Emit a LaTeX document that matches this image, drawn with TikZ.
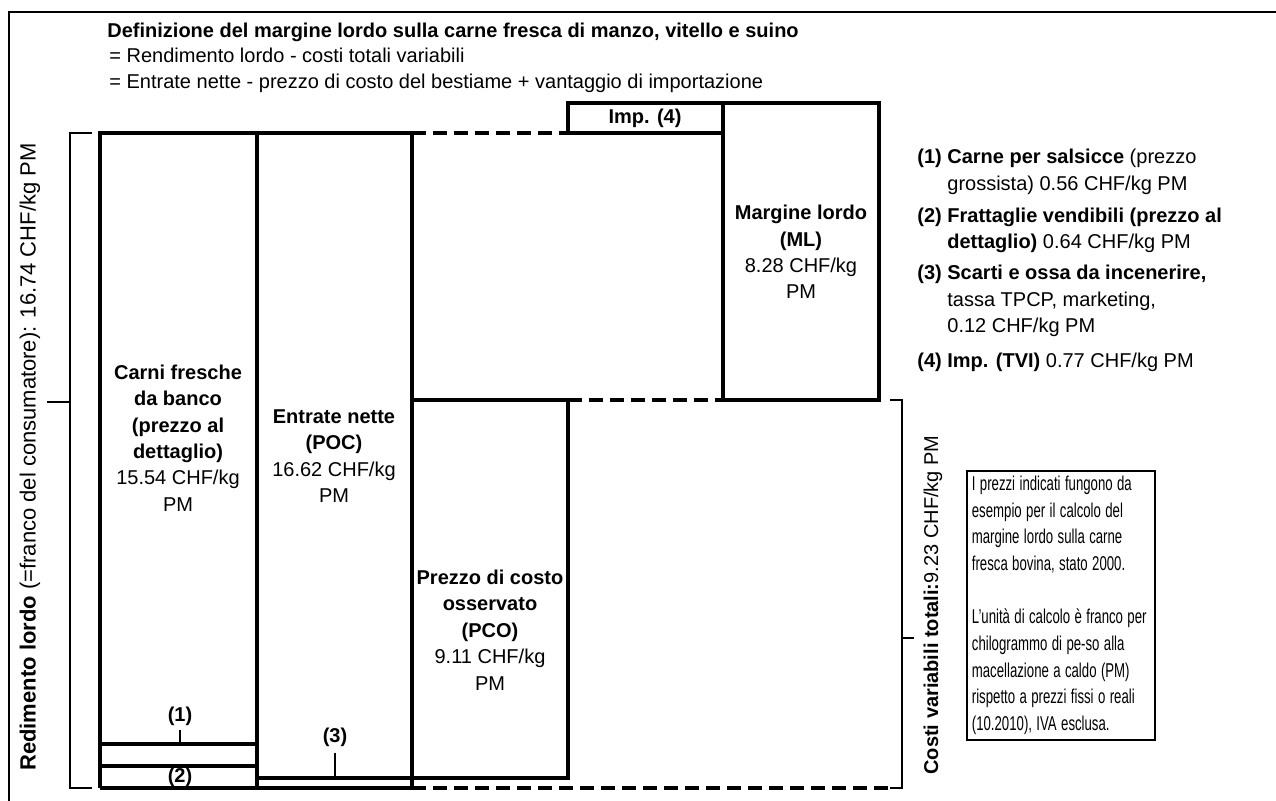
\documentclass[tikz,border=0pt]{standalone}
\usepackage{graphicx}
\usepackage{fontspec}
\setmainfont{Liberation Sans}
\newcommand{\narrowline}[1]{\scalebox{0.66}[1]{#1}}
\tikzset{
  boxline/.style={line width=1.9pt},
  dashline/.style={line width=1.9pt, dash pattern=on 7pt off 3.5pt},
  brace/.style={line width=0.9pt},
  thinline/.style={line width=0.6pt},
  txt/.style={inner sep=0pt, font=\fontsize{10}{13.2}\selectfont},
  btxt/.style={inner sep=0pt, font=\fontsize{10}{13.2}\selectfont\bfseries},
  ctr/.style={txt, align=center},
}
\begin{document}
\begin{tikzpicture}[x=0.5pt,y=-0.5pt]
\useasboundingbox (0,0) rectangle (1276,801);
\begin{scope}
\clip (0,0) rectangle (1276,801);
\draw[line width=1.2pt] (9,12) rectangle (1300,830);
\end{scope}
% header
\node[btxt, anchor=base west] (title) at (107,38) {Definizione del margine lordo sulla carne fresca di manzo, vitello e suino};
\node[txt, anchor=base west] (def1) at (109,63) {= Rendimento lordo - costi totali variabili};
\node[txt, anchor=base west] (def2) at (109,89) {= Entrate nette - prezzo di costo del bestiame + vantaggio di importazione};
% boxes
\draw[boxline] (100,788) -- (100,133) -- (412,133);
\draw[dashline] (412,133) -- (568,133);
\draw[boxline] (568,133) -- (568,103) -- (879,103) -- (879,400) -- (723,400) -- (723,103);
\draw[boxline] (568,133) -- (723,133);
\draw[boxline] (257,133) -- (257,788);
\draw[boxline] (412,133) -- (412,788);
\draw[boxline] (412,400) -- (568,400) -- (568,778) -- (257,778);
\draw[dashline] (568,400) -- (723,400);
\draw[boxline] (100,744) -- (257,744);
\draw[boxline] (100,766) -- (257,766);
\draw[boxline] (100,788) -- (412,788);
\draw[dashline] (412,788) -- (890,788);
% brackets
\draw[brace] (92,133) -- (70,133) -- (70,788) -- (92,788);
\draw[brace] (70,402) -- (47,402);
\draw[brace] (890,400) -- (902,400) -- (902,788) -- (890,788);
\draw[brace] (902,638) -- (914,638);
% rotated labels
\node[inner sep=0pt, font=\fontsize{11}{13.2}\selectfont, rotate=90] (rl) at (30,457) {\textbf{Redimento lordo} (=franco del consumatore): 16.74 CHF/kg PM};
\node[txt, rotate=90] (cv) at (933,605) {\textbf{Costi variabili totali:}9.23 CHF/kg PM};
% box texts
\node[btxt] (imp) at (645,118) {Imp. (4)};
\node[ctr] (ml) at (801,252) {\textbf{Margine lordo}\\\textbf{(ML)}\\8.28 CHF/kg\\PM};
\node[ctr] (carni) at (178,438) {\textbf{Carni fresche}\\\textbf{da banco}\\\textbf{(prezzo al}\\\textbf{dettaglio)}\\15.54 CHF/kg\\PM};
\node[ctr] (poc) at (334,456) {\textbf{Entrate nette}\\\textbf{(POC)}\\16.62 CHF/kg\\PM};
\node[ctr] (pco) at (490,630) {\textbf{Prezzo di costo}\\\textbf{osservato}\\\textbf{(PCO)}\\9.11 CHF/kg\\PM};
% small labels
\node[btxt] (l1) at (180,716) {(1)};
\coordinate (l1e) at (180,742);
\draw[thinline] ([yshift=-2pt]l1.south) -- (l1e);
\node[btxt] (l2) at (180,777) {(2)};
\node[btxt] (l3) at (335,737) {(3)};
\coordinate (l3e) at (335,776);
\draw[thinline] ([yshift=-3pt]l3.south) -- (l3e);
% legend
\node[btxt, anchor=base west] (n1) at (917,164) {(1)};
\node[txt, anchor=base west] (t1a) at (947,164) {\textbf{Carne per salsicce} (prezzo};
\node[txt, anchor=base west] (t1b) at (947,191) {grossista) 0.56 CHF/kg PM};
\node[btxt, anchor=base west] (n2) at (917,223) {(2)};
\node[txt, anchor=base west] (t2a) at (947,223) {\textbf{Frattaglie vendibili (prezzo al}};
\node[txt, anchor=base west] (t2b) at (947,249) {\textbf{dettaglio)} 0.64 CHF/kg PM};
\node[btxt, anchor=base west] (n3) at (917,280) {(3)};
\node[txt, anchor=base west] (t3a) at (947,280) {\textbf{Scarti e ossa da incenerire,}};
\node[txt, anchor=base west] (t3b) at (947,307) {tassa TPCP, marketing,};
\node[txt, anchor=base west] (t3c) at (947,333) {0.12 CHF/kg PM};
\node[btxt, anchor=base west] (n4) at (917,368) {(4)};
\node[txt, anchor=base west] (t4) at (947,368) {\textbf{Imp. (TVI)} 0.77 CHF/kg PM};
% note box
\node[draw, line width=0.9pt, inner sep=0pt, inner xsep=2.5pt, inner ysep=2.5pt, align=left, anchor=north west,
      text width=89pt, font=\fontsize{10}{13.35}\selectfont] (note) at (966,470)
 {\narrowline{I prezzi indicati fungono da}\\\narrowline{esempio per il calcolo del}\\\narrowline{margine lordo sulla carne}\\\narrowline{fresca bovina, stato 2000.}\\[13.35pt]\narrowline{L'unità di calcolo è franco per}\\\narrowline{chilogrammo di pe-so alla}\\\narrowline{macellazione a caldo (PM)}\\\narrowline{rispetto a prezzi fissi o reali}\\\narrowline{(10.2010), IVA esclusa.}};
\end{tikzpicture}
\end{document}
